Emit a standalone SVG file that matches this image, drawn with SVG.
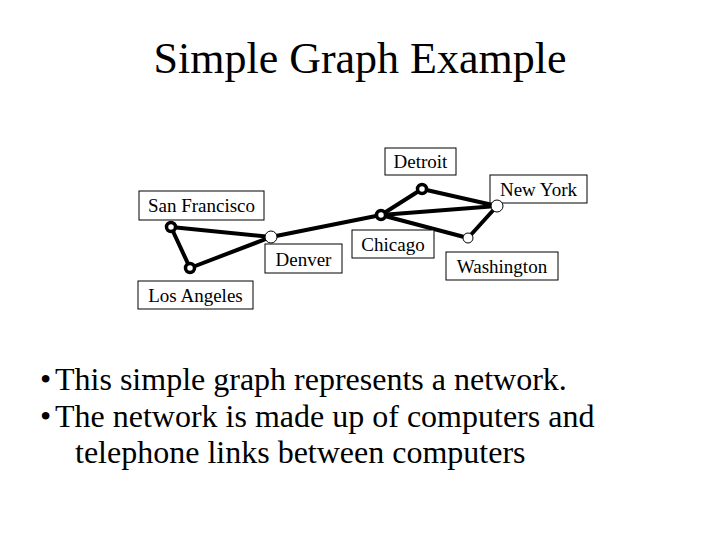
<svg xmlns="http://www.w3.org/2000/svg" width="720" height="540" viewBox="0 0 720 540">
<style>
text{font-family:"Liberation Serif","Times New Roman",serif;fill:#000}
.lbl{font-size:19px;text-anchor:middle}
.box{fill:#fff;stroke:#000;stroke-width:1}
.edge{stroke:#000;stroke-width:4;stroke-linecap:round}
.vt{fill:#fff;stroke:#000;stroke-width:3.5}
.vn{fill:#fff;stroke:#000;stroke-width:1}
.title{font-size:44px;text-anchor:middle}
.body{font-size:32px}
</style>
<rect width="720" height="540" fill="#fff"/>
<text class="title" x="360" y="73">Simple Graph Example</text>
<g id="connectors">
<line class="edge" x1="171" y1="227" x2="271" y2="237"/>
<line class="edge" x1="171" y1="227" x2="190" y2="268"/>
<line class="edge" x1="190" y1="268" x2="271" y2="237"/>
<line class="edge" x1="271" y1="237" x2="381" y2="215"/>
<line class="edge" x1="381" y1="215" x2="422" y2="189"/>
<line class="edge" x1="381" y1="215" x2="497" y2="206"/>
<line class="edge" x1="381" y1="215" x2="468" y2="238"/>
<line class="edge" x1="422" y1="189" x2="497" y2="206"/>
<line class="edge" x1="497" y1="206" x2="468" y2="238"/>
</g>
<g id="detroit">
<rect class="box" x="385" y="148" width="71" height="27"/>
<text class="lbl" x="420.5" y="168">Detroit</text>
<circle class="vt" cx="422" cy="189" r="4.5"/>
</g>
<g id="new-york">
<rect class="box" x="490" y="175" width="97" height="28"/>
<text class="lbl" x="538.5" y="196">New York</text>
<circle class="vn" cx="497" cy="206" r="6"/>
</g>
<g id="san-francisco">
<rect class="box" x="139" y="191" width="125" height="29"/>
<text class="lbl" x="201.5" y="212">San Francisco</text>
<circle class="vt" cx="171" cy="227" r="4.5"/>
</g>
<g id="denver">
<rect class="box" x="265" y="244" width="77" height="29"/>
<text class="lbl" x="303.5" y="266">Denver</text>
<circle class="vn" cx="271" cy="237" r="6"/>
</g>
<g id="chicago">
<rect class="box" x="352" y="230" width="82" height="28"/>
<text class="lbl" x="393" y="251">Chicago</text>
<circle class="vt" cx="381" cy="215" r="4.5"/>
</g>
<g id="washington">
<rect class="box" x="446" y="252" width="112" height="28"/>
<text class="lbl" x="502" y="273">Washington</text>
<circle class="vn" cx="468" cy="238" r="5"/>
</g>
<g id="los-angeles">
<rect class="box" x="138" y="281" width="115" height="28"/>
<text class="lbl" x="195.5" y="302">Los Angeles</text>
<circle class="vt" cx="190" cy="268" r="4.5"/>
</g>
<text class="body" x="40" y="390">•</text>
<text class="body" x="55" y="390">This simple graph represents a network.</text>
<text class="body" x="40" y="427">•</text>
<text class="body" x="55" y="427">The network is made up of computers and</text>
<text class="body" x="75" y="463">telephone links between computers</text>
</svg>
